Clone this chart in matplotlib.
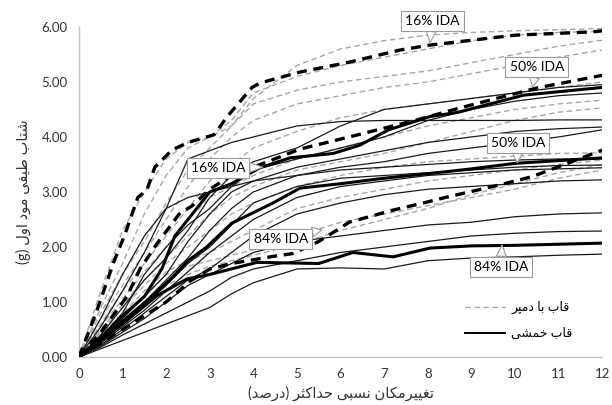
import numpy as np
import matplotlib
matplotlib.use("Agg")
import matplotlib.pyplot as plt

# --- data ---
xg = [0, 0.5, 1, 1.5, 2, 2.5, 3, 3.5, 4, 5, 6, 7, 8, 9, 10, 11, 12]

# thin curves, moment frame (solid black)
mf_records = [
    [0, 0.55, 1.2, 1.9, 2.7, 3.6, 3.75, 3.9, 4.0, 4.2, 4.28, 4.3, 4.3, 4.3, 4.3, 4.31, 4.31],
    [0, 0.4, 0.9, 1.4, 1.8, 2.3, 2.9, 3.3, 3.55, 3.8, 4.2, 4.5, 4.6, 4.7, 4.8, 4.9, 4.95],
    [0, 0.35, 0.8, 1.5, 2.0, 2.4, 2.7, 3.1, 3.4, 3.6, 3.8, 4.0, 4.3, 4.5, 4.65, 4.75, 4.8],
    [0, 0.3, 0.7, 1.1, 1.5, 2.1, 2.6, 3.0, 3.2, 3.45, 3.6, 3.75, 3.9, 4.0, 4.1, 4.15, 4.18],
    [0, 0.3, 0.65, 1.0, 1.4, 1.8, 2.3, 2.7, 3.0, 3.3, 3.45, 3.55, 3.7, 3.8, 3.9, 4.0, 4.13],
    [0, 0.28, 0.6, 0.95, 1.3, 1.7, 2.0, 2.4, 2.8, 3.1, 3.25, 3.3, 3.35, 3.4, 3.45, 3.48, 3.49],
    [0, 0.25, 0.55, 0.85, 1.2, 1.55, 1.9, 2.2, 2.5, 2.9, 3.1, 3.2, 3.3, 3.35, 3.4, 3.42, 3.44],
    [0, 0.22, 0.5, 0.8, 1.1, 1.4, 1.6, 1.9, 2.2, 2.6, 2.8, 2.95, 3.05, 3.1, 3.15, 3.2, 3.22],
    [0, 0.2, 0.45, 0.7, 1.0, 1.3, 1.5, 1.7, 1.9, 2.1, 2.2, 2.3, 2.4, 2.45, 2.55, 2.6, 2.62],
    [0, 0.18, 0.4, 0.6, 0.8, 1.0, 1.2, 1.45, 1.6, 1.75, 1.9, 2.0, 2.1, 2.2, 2.25, 2.28, 2.29],
    [0, 0.15, 0.3, 0.45, 0.6, 0.75, 0.9, 1.15, 1.35, 1.6, 1.62, 1.6, 1.75, 1.8, 1.82, 1.85, 1.87],
    [0, 0.7, 1.5, 2.2, 2.7, 2.9, 3.0, 3.1, 3.2, 3.3, 3.4, 3.45, 3.5, 3.55, 3.58, 3.6, 3.6],
]

# thin curves, frame with damper (gray dashed)
dp_records = [
    [0, 1.2, 2.3, 3.0, 3.6, 3.9, 4.0, 4.2, 4.7, 5.3, 5.6, 5.75, 5.85, 5.9, 5.93, 5.95, 5.97],
    [0, 0.9, 1.7, 2.6, 3.3, 3.8, 4.0, 4.3, 4.8, 5.1, 5.3, 5.45, 5.6, 5.75, 5.85, 5.9, 5.92],
    [0, 0.8, 1.5, 2.1, 2.8, 3.4, 3.8, 4.2, 4.6, 4.85, 5.0, 5.1, 5.2, 5.35, 5.5, 5.65, 5.76],
    [0, 0.7, 1.3, 1.9, 2.5, 3.1, 3.6, 4.0, 4.3, 4.6, 4.75, 4.9, 5.0, 5.15, 5.3, 5.45, 5.58],
    [0, 0.6, 1.2, 1.7, 2.2, 2.7, 3.2, 3.5, 3.8, 4.1, 4.35, 4.5, 4.6, 4.7, 4.8, 4.9, 5.0],
    [0, 0.55, 1.05, 1.55, 2.0, 2.5, 2.9, 3.1, 3.3, 3.6, 3.8, 4.0, 4.2, 4.35, 4.5, 4.6, 4.67],
    [0, 0.5, 0.95, 1.4, 1.8, 2.2, 2.6, 2.9, 3.1, 3.4, 3.55, 3.7, 3.9, 4.1, 4.3, 4.45, 4.53],
    [0, 0.45, 0.9, 1.3, 1.7, 2.0, 2.3, 2.6, 2.8, 3.1, 3.3, 3.45, 3.55, 3.6, 3.65, 3.7, 3.71],
    [0, 0.4, 0.8, 1.2, 1.55, 1.75, 1.9, 2.1, 2.3, 2.7, 2.9, 3.05, 3.2, 3.3, 3.4, 3.5, 3.58],
    [0, 0.35, 0.7, 1.1, 1.5, 1.65, 1.75, 1.85, 1.95, 2.2, 2.45, 2.6, 2.75, 2.9, 3.05, 3.25, 3.4],
    [0, 0.3, 0.6, 0.95, 1.3, 1.5, 1.65, 1.75, 1.85, 2.05, 2.3, 2.5, 2.7, 2.95, 3.15, 3.35, 3.5],
]

# fractile curves of the damper frame (thick dashed)
dp16_x = [0, 0.4, 0.8, 1.05, 1.35, 1.56, 1.74, 2.13, 2.5, 3.1, 3.4, 3.97, 4.15, 5.07, 6.2, 7.36, 8.05, 10, 11.77, 12]
dp16_y = [0, 0.82, 1.73, 2.22, 2.9, 3.04, 3.45, 3.76, 3.9, 4.04, 4.37, 4.9, 4.98, 5.18, 5.36, 5.58, 5.67, 5.85, 5.91, 5.93]
dp50_x = [0, 0.5, 1.1, 1.4, 1.8, 2.3, 2.6, 3.0, 3.5, 4.0, 5.07, 6.2, 7.1, 7.75, 8.7, 10.5, 12]
dp50_y = [0, 0.45, 1.1, 1.6, 2.07, 2.6, 2.75, 3.05, 3.3, 3.45, 3.78, 4.0, 4.18, 4.31, 4.52, 4.89, 5.12]
dp84_x = [0, 1, 2, 2.55, 3.0, 3.5, 4.38, 4.9, 5.5, 6.2, 7.2, 7.9, 8.4, 9.5, 10.4, 11.2, 12]
dp84_y = [0, 0.5, 1.0, 1.38, 1.6, 1.7, 1.82, 1.88, 2.1, 2.45, 2.67, 2.8, 2.9, 3.1, 3.28, 3.52, 3.76]

# fractile curves of the moment frame (thick solid)
mf16_x = [0, 0.5, 1.0, 1.5, 1.9, 2.2, 2.6, 3.0, 3.5, 4.15, 4.84, 5.83, 6.44, 7.1, 8.05, 8.7, 10.2, 12]
mf16_y = [0, 0.35, 0.75, 1.1, 1.6, 2.2, 2.6, 3.0, 3.15, 3.44, 3.62, 3.7, 3.85, 4.13, 4.37, 4.45, 4.76, 4.9]
mf50_x = [0, 0.5, 1.0, 1.6, 2.16, 2.5, 2.93, 3.5, 4.45, 5.07, 6, 7, 8.1, 9, 10, 11, 12]
mf50_y = [0, 0.3, 0.65, 1.05, 1.46, 1.75, 2.0, 2.43, 2.8, 3.07, 3.15, 3.25, 3.34, 3.42, 3.52, 3.57, 3.62]
mf84_x = [0, 0.5, 1.0, 1.8, 2.48, 3, 4.08, 5.5, 6.28, 7.2, 8.05, 9, 10, 11, 12]
mf84_y = [0, 0.3, 0.6, 1.12, 1.42, 1.5, 1.72, 1.7, 1.9, 1.82, 1.98, 2.02, 2.03, 2.05, 2.07]

x_ticks = list(range(0, 13))
y_ticks = [0, 1, 2, 3, 4, 5, 6]

x_label = "تغییرمکان نسبی حداکثر (درصد)"
y_label = "شتاب طیفی مود اول (g)"
legend_damper = "قاب با دمپر"
legend_moment = "قاب خمشی"

# (text, point on curve, box centre)
callouts = [
    ("16% IDA", (8.05, 5.71), (8.1, 6.11)),
    ("50% IDA", (10.4, 4.91), (10.5, 5.27)),
    ("50% IDA", (10.05, 3.53), (10.07, 3.89)),
    ("16% IDA", (4.22, 3.45), (3.19, 3.44)),
    ("84% IDA", (5.57, 2.31), (4.63, 2.15)),
    ("84% IDA", (9.7, 2.04), (9.68, 1.64)),
]


# matplotlib does no arabic shaping, so pick the joined forms by hand
# (isolated, final, initial, medial); right-joining letters have 2 forms
FORMS = {
    "ا": ("\uFE8D", "\uFE8E"), "آ": ("\uFE81", "\uFE82"),
    "ب": ("\uFE8F", "\uFE90", "\uFE91", "\uFE92"),
    "پ": ("\uFB56", "\uFB57", "\uFB58", "\uFB59"),
    "ت": ("\uFE95", "\uFE96", "\uFE97", "\uFE98"),
    "ث": ("\uFE99", "\uFE9A", "\uFE9B", "\uFE9C"),
    "ج": ("\uFE9D", "\uFE9E", "\uFE9F", "\uFEA0"),
    "ح": ("\uFEA1", "\uFEA2", "\uFEA3", "\uFEA4"),
    "خ": ("\uFEA5", "\uFEA6", "\uFEA7", "\uFEA8"),
    "د": ("\uFEA9", "\uFEAA"), "ذ": ("\uFEAB", "\uFEAC"),
    "ر": ("\uFEAD", "\uFEAE"), "ز": ("\uFEAF", "\uFEB0"),
    "س": ("\uFEB1", "\uFEB2", "\uFEB3", "\uFEB4"),
    "ش": ("\uFEB5", "\uFEB6", "\uFEB7", "\uFEB8"),
    "ص": ("\uFEB9", "\uFEBA", "\uFEBB", "\uFEBC"),
    "ط": ("\uFEC1", "\uFEC2", "\uFEC3", "\uFEC4"),
    "ع": ("\uFEC9", "\uFECA", "\uFECB", "\uFECC"),
    "غ": ("\uFECD", "\uFECE", "\uFECF", "\uFED0"),
    "ف": ("\uFED1", "\uFED2", "\uFED3", "\uFED4"),
    "ق": ("\uFED5", "\uFED6", "\uFED7", "\uFED8"),
    "ک": ("\uFB8E", "\uFB8F", "\uFB90", "\uFB91"),
    "ل": ("\uFEDD", "\uFEDE", "\uFEDF", "\uFEE0"),
    "م": ("\uFEE1", "\uFEE2", "\uFEE3", "\uFEE4"),
    "ن": ("\uFEE5", "\uFEE6", "\uFEE7", "\uFEE8"),
    "ه": ("\uFEE9", "\uFEEA", "\uFEEB", "\uFEEC"),
    "و": ("\uFEED", "\uFEEE"),
    "ی": ("\uFBFC", "\uFBFD", "\uFBFE", "\uFBFF"),
}
MIRROR = {"(": ")", ")": "("}


def rtl(text):
    out = []
    for i, ch in enumerate(text):
        if ch not in FORMS:
            out.append(ch)
            continue
        f = FORMS[ch]
        prev = text[i - 1] if i > 0 else ""
        nxt = text[i + 1] if i + 1 < len(text) else ""
        join_prev = prev in FORMS and len(FORMS[prev]) == 4
        join_next = nxt in FORMS and len(f) == 4
        if join_prev and join_next:
            out.append(f[3])
        elif join_prev:
            out.append(f[1])
        elif join_next:
            out.append(f[2])
        else:
            out.append(f[0])
    return "".join(MIRROR.get(c, c) for c in reversed(out))


plt.rcParams["font.family"] = ["Lato", "DejaVu Sans"]

fig = plt.figure(figsize=(6.12, 4.05), dpi=100)
ax = fig.add_axes([0.129, 0.1185, 0.855, 0.815])

for ys in dp_records:
    ax.plot(xg, ys, color="#a6a6a6", lw=1.0, dashes=(4, 2.5), zorder=2)
for ys in mf_records:
    ax.plot(xg, ys, color="#1a1a1a", lw=0.9, zorder=3)

for xs, ys in [(dp16_x, dp16_y), (dp50_x, dp50_y), (dp84_x, dp84_y)]:
    ax.plot(xs, ys, color="black", lw=2.4, dashes=(3, 2), zorder=4)
for xs, ys in [(mf16_x, mf16_y), (mf50_x, mf50_y), (mf84_x, mf84_y)]:
    ax.plot(xs, ys, color="black", lw=2.2, zorder=5)

for txt, pt, box in callouts:
    ax.annotate(txt, xy=pt, xytext=box, ha="center", va="center", fontsize=10,
                annotation_clip=False, zorder=6,
                bbox=dict(boxstyle="square,pad=0.3", fc="white", ec="#9a9a9a", lw=0.8),
                arrowprops=dict(arrowstyle="wedge,tail_width=0.7,shrink_factor=0.5",
                                fc="white", ec="#9a9a9a", lw=0.8,
                                shrinkA=0, shrinkB=0))

ax.set_xlim(0, 12)
ax.set_ylim(0, 6)
ax.set_xticks(x_ticks)
ax.set_yticks(y_ticks)
ax.set_yticklabels([f"{v:.2f}" for v in y_ticks])
ax.tick_params(length=0, labelsize=9.5, colors="#333333", pad=8)
for s in ["top", "right"]:
    ax.spines[s].set_visible(False)
for s in ["left", "bottom"]:
    ax.spines[s].set_color("#c0c0c0")
    ax.spines[s].set_linewidth(1.0)

ax.set_xlabel(rtl(x_label), fontsize=10.5, color="#333333", labelpad=4)
ax.set_ylabel(rtl(y_label), fontsize=10.5, color="#333333", labelpad=8)

h1, = ax.plot([], [], color="#a6a6a6", lw=1.0, dashes=(4, 2.5))
h2, = ax.plot([], [], color="black", lw=1.4)
ax.legend([h1, h2], [rtl(legend_damper), rtl(legend_moment)], frameon=False,
          loc="lower right", bbox_to_anchor=(0.965, 0.02), fontsize=9,
          handlelength=3.2, labelspacing=1.0, handletextpad=0.5)

fig.savefig("out.png", dpi=100)
